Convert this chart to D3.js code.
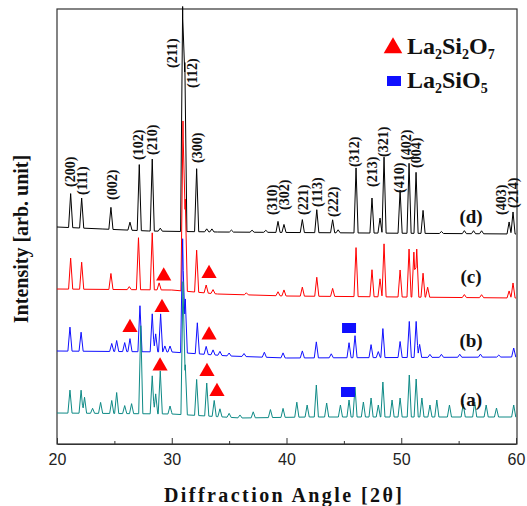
<!DOCTYPE html>
<html lang="en">
<head>
  <meta charset="UTF-8">
  <title>XRD patterns</title>
  <script src="https://cdn.jsdelivr.net/npm/d3@7/dist/d3.min.js"></script>
</head>
<body style="margin:0;background:#fff">
<style>
  .serif { font-family: "Liberation Serif", "Times New Roman", serif; font-weight: bold; fill: #111; }
  .tick text { font-family: "Liberation Sans", Arial, sans-serif; font-size: 16px; fill: #222; }
  .tick line { stroke: #333; }
</style>
<svg width="527" height="506"></svg>
<script>
// background level of each pattern [2theta, intensity a.u.]
var bgD = [[20, 434], [24, 430], [28, 426], [34, 424], [60, 420]];
var bgC = [[20, 310], [30, 308], [34, 300], [40, 296], [60, 292]];
var bgB = [[20, 186], [30, 184], [35, 176], [40, 172], [60, 174]];
var bgA = [[20, 62], [30, 60], [36, 52], [42, 54], [60, 54]];

// peaks [2theta, height above background]
var peaksD = [[21.19,68],[22.15,60],[24.7,44],[26.36,16],[27.17,132],[28.3,144],[29.0,6],[30.95,450],[31.14,338],[32.17,126],[33.05,6],[33.5,6],[35.2,4],[37.0,4],[38.2,4],[39.26,22],[39.78,16],[41.38,26],[42.64,46],[44.02,26],[44.5,6],[46.06,130],[47.45,70],[48.15,30],[48.5,152],[49.9,86],[50.68,140],[51.29,122],[51.9,46],[53.5,4],[55.5,6],[56.3,6],[57.0,6],[59.4,24],[59.74,44]];
var peaksC = [[21.19,62],[22.15,54],[24.7,32],[26.3,6],[27.1,104],[28.3,114],[28.9,14],[30.98,340],[31.18,184],[32.17,84],[33.0,16],[33.6,8],[36.5,4],[39.26,8],[39.78,12],[41.38,18],[42.64,38],[44.02,16],[46.06,98],[47.45,54],[48.15,36],[48.5,106],[49.9,54],[50.68,96],[51.1,90],[51.35,96],[51.9,48],[52.3,20],[55.5,6],[57.0,6],[59.4,14],[59.74,30]];
var peaksB = [[21.13,48],[22.1,38],[24.77,16],[25.2,22],[25.9,18],[26.36,26],[27.23,92],[28.3,76],[28.6,36],[29.03,76],[29.4,12],[29.85,12],[30.95,228],[31.18,108],[32.23,62],[33.0,16],[33.6,10],[34.2,8],[35.0,6],[36.3,6],[38.07,10],[39.7,10],[41.38,14],[42.6,32],[43.9,8],[45.45,30],[45.97,44],[47.37,26],[48.0,12],[48.4,58],[49.9,32],[50.7,72],[51.3,72],[51.6,26],[52.5,6],[53.5,6],[55.1,6],[56.9,6],[58.5,4],[59.8,18]];
var peaksA = [[21.13,46],[22.1,46],[22.4,32],[23.1,10],[23.8,22],[24.77,26],[25.2,42],[25.9,16],[26.5,20],[27.3,176],[28.3,76],[28.6,40],[29.0,86],[29.85,16],[30.98,266],[31.18,100],[32.17,72],[33.05,66],[33.7,32],[34.2,16],[35.0,8],[35.95,6],[37.1,12],[38.6,16],[39.7,18],[40.9,30],[41.8,24],[42.6,64],[43.5,28],[44.7,24],[45.45,34],[45.97,60],[46.7,30],[47.37,38],[48.0,24],[48.4,70],[49.2,34],[49.9,38],[50.7,84],[51.3,76],[51.8,38],[52.5,24],[53.1,34],[54.2,24],[55.4,26],[56.4,30],[57.4,24],[58.3,18],[59.8,24]];

// hkl labels of pattern (d): [text, 2theta, intensity at label foot]
var hklLabels = [["(200)",21.13,514],["(111)",22.18,498],["(002)",24.79,488],["(102)",27.06,568],["(210)",28.28,578],
  ["(211)",30.02,752],["(112)",31.76,712],["(300)",32.2,562],["(310)",38.74,458],["(302)",39.78,468],["(221)",41.41,458],
  ["(113)",42.63,474],["(222)",44.08,454],["(312)",45.88,554],["(213)",47.42,514],["(321)",48.38,574],["(410)",49.83,502],
  ["(402)",50.41,568],["(004)",51.29,552],["(403)",58.67,458],["(214)",59.71,472]];

var seriesNames = ["(d)", "(c)", "(b)", "(a)"];
var seriesLabelPos = [[56.08,442],[56.08,322],[56.08,194],[56.08,76]];
var seriesColors = ["#000000", "#ff0000", "#1010ff", "#0e8a86"];

// phase markers [2theta, intensity]
var triMarks = [[29.3,336],[33.25,341],[26.36,233],[29.15,273],[33.25,218],[28.98,156],[33.07,145],[33.94,105]];
var sqMarks = [[45.45,232],[45.36,104]];

var xTicks = [20, 30, 40, 50, 60];
var xMinor = [25, 35, 45, 55];

var svg = d3.select("svg");
var x = d3.scaleLinear().domain([20, 60]).range([57, 516]);
var y = d3.scaleLinear().domain([0, 870]).range([444, 9]);

var halfW = 0.18;
function pattern(bg, peaks) {
  var bgScale = d3.scaleLinear().domain(bg.map(d => d[0])).range(bg.map(d => d[1]));
  var xs = bg.map(d => d[0]);
  peaks.forEach(function(p) { xs.push(p[0] - halfW, p[0], p[0] + halfW); });
  xs = xs.filter(v => v >= 20 && v <= 60).sort((a, b) => a - b);
  return xs.map(function(v) {
    var val = bgScale(v);
    peaks.forEach(function(p) {
      var t = 1 - Math.abs(v - p[0]) / halfW;
      if (t > 0) val += p[1] * t;
    });
    return [v, val];
  });
}

var data = [pattern(bgD, peaksD), pattern(bgC, peaksC), pattern(bgB, peaksB), pattern(bgA, peaksA)];

// frame
svg.append("rect")
  .attr("x", 57).attr("y", 9).attr("width", 460).attr("height", 435)
  .attr("fill", "none").attr("stroke", "#333").attr("stroke-width", 1.2);

var line = d3.line().x(d => x(d[0])).y(d => y(d[1]));
svg.append("g").selectAll("path")
  .data(data)
  .enter().append("path")
    .attr("d", line)
    .attr("fill", "none")
    .attr("stroke", (d, i) => seriesColors[i])
    .attr("stroke-width", 1)
    .attr("stroke-linejoin", "round");

// axes
var xAxis = svg.append("g")
  .attr("transform", "translate(0,444)")
  .call(d3.axisBottom(x).tickValues(xTicks).tickSize(-6).tickSizeOuter(0).tickPadding(10));
xAxis.select(".domain").attr("stroke", "#333").attr("stroke-width", 1.2);
svg.append("g")
  .attr("transform", "translate(0,444)")
  .call(d3.axisBottom(x).tickValues(xMinor).tickSize(-3).tickFormat(""))
  .select(".domain").remove();

// hkl labels
svg.append("g").selectAll("text")
  .data(hklLabels)
  .enter().append("text")
    .attr("class", "serif")
    .attr("font-size", 14)
    .attr("transform", d => "translate(" + x(d[1]) + "," + y(d[2]) + ") rotate(-90)")
    .attr("dy", "0.35em")
    .text(d => d[0]);

// series labels
svg.append("g").selectAll("text")
  .data(seriesNames)
  .enter().append("text")
    .attr("class", "serif")
    .attr("font-size", 19)
    .attr("text-anchor", "middle")
    .attr("x", (d, i) => x(seriesLabelPos[i][0]))
    .attr("y", (d, i) => y(seriesLabelPos[i][1]))
    .text(d => d);

// markers
svg.append("g").selectAll("path")
  .data(triMarks)
  .enter().append("path")
    .attr("d", d3.symbol().type(d3.symbolTriangle).size(100))
    .attr("transform", d => "translate(" + x(d[0]) + "," + y(d[1]) + ")")
    .attr("fill", "#ff0000");
svg.append("g").selectAll("rect")
  .data(sqMarks)
  .enter().append("rect")
    .attr("x", d => x(d[0]) - 7).attr("y", d => y(d[1]) - 5)
    .attr("width", 14).attr("height", 10)
    .attr("fill", "#1010ff");

// legend
svg.append("path")
  .attr("d", d3.symbol().type(d3.symbolTriangle).size(150))
  .attr("transform", "translate(393,48)")
  .attr("fill", "#ff0000");
svg.append("rect")
  .attr("x", 387).attr("y", 76).attr("width", 14).attr("height", 10)
  .attr("fill", "#1010ff");

var leg1 = svg.append("text").attr("class", "serif").attr("font-size", 24).attr("x", 407).attr("y", 54);
leg1.append("tspan").text("La");
leg1.append("tspan").attr("font-size", 14).attr("dy", 5).text("2");
leg1.append("tspan").attr("dy", -5).text("Si");
leg1.append("tspan").attr("font-size", 14).attr("dy", 5).text("2");
leg1.append("tspan").attr("dy", -5).text("O");
leg1.append("tspan").attr("font-size", 14).attr("dy", 5).text("7");

var leg2 = svg.append("text").attr("class", "serif").attr("font-size", 24).attr("x", 407).attr("y", 88);
leg2.append("tspan").text("La");
leg2.append("tspan").attr("font-size", 14).attr("dy", 5).text("2");
leg2.append("tspan").attr("dy", -5).text("SiO");
leg2.append("tspan").attr("font-size", 14).attr("dy", 5).text("5");

// axis titles
svg.append("text")
  .attr("class", "serif")
  .attr("font-size", 20)
  .attr("text-anchor", "middle")
  .attr("x", 283).attr("y", 502)
  .attr("textLength", 238)
  .text("Diffraction Angle [2\u03b8]");

svg.append("text")
  .attr("class", "serif")
  .attr("font-size", 20)
  .attr("text-anchor", "middle")
  .attr("transform", "translate(28,239) rotate(-90)")
  .text("Intensity [arb. unit]");
</script>
</body>
</html>
